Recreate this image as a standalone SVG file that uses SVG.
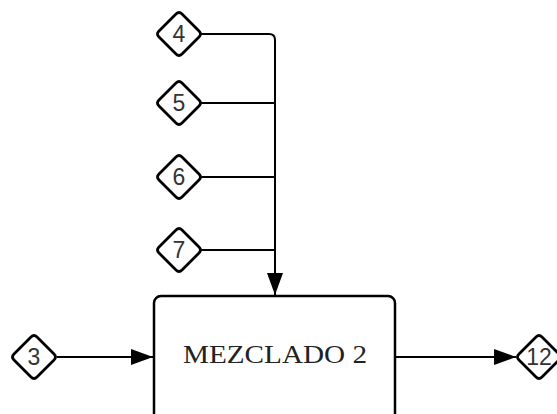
<svg xmlns="http://www.w3.org/2000/svg" width="557" height="414" viewBox="0 0 557 414">
<defs>
<marker id="ah2" viewBox="0 0 22 16" refX="22" refY="8" markerWidth="22" markerHeight="16" markerUnits="userSpaceOnUse" orient="auto">
<path d="M0,0 L22,8 L0,16 z" fill="#000"/>
</marker>
</defs>
<style>
.d{fill:#fff;stroke:#000;stroke-width:2.8;stroke-linejoin:round}
.t{font-family:"Liberation Sans",Arial,sans-serif;font-size:23px;fill:#333;text-anchor:middle}
.c{fill:none;stroke:#000;stroke-width:2}
.b{fill:#fff;stroke:#000;stroke-width:2.5}
.bt{font-family:"Liberation Serif","Times New Roman",serif;font-size:26px;fill:#222}
</style>
<rect width="557" height="414" fill="#fff"/>
<g id="connectors">
<path class="c" d="M201,34 H269 Q275,34 275,40 V295" marker-end="url(#ah2)"/>
<path class="c" d="M201,103 H275"/>
<path class="c" d="M201,177 H275"/>
<path class="c" d="M201,250 H275"/>
<path class="c" d="M57,357 H153" marker-end="url(#ah2)"/>
<path class="c" d="M396,357 H516" marker-end="url(#ah2)"/>
</g>
<g id="box">
<rect class="b" x="154" y="296" width="241" height="130" rx="7"/>
<text class="bt" x="183" y="363" textLength="184" lengthAdjust="spacingAndGlyphs">MEZCLADO 2</text>
</g>
<g id="n4">
<path class="d" d="M176,14 Q179,11 182,14 L199,31 Q202,34 199,37 L182,54 Q179,57 176,54 L159,37 Q156,34 159,31 Z"/>
<text class="t" x="179" y="42">4</text>
</g>
<g id="n5">
<path class="d" d="M176,83 Q179,80 182,83 L199,100 Q202,103 199,106 L182,123 Q179,126 176,123 L159,106 Q156,103 159,100 Z"/>
<text class="t" x="179" y="111">5</text>
</g>
<g id="n6">
<path class="d" d="M176,157 Q179,154 182,157 L199,174 Q202,177 199,180 L182,197 Q179,200 176,197 L159,180 Q156,177 159,174 Z"/>
<text class="t" x="179" y="185">6</text>
</g>
<g id="n7">
<path class="d" d="M176,230 Q179,227 182,230 L199,247 Q202,250 199,253 L182,270 Q179,273 176,270 L159,253 Q156,250 159,247 Z"/>
<text class="t" x="179" y="258">7</text>
</g>
<g id="n3">
<path class="d" d="M31,337 Q34,334 37,337 L54,354 Q57,357 54,360 L37,377 Q34,380 31,377 L14,360 Q11,357 14,354 Z"/>
<text class="t" x="34" y="365">3</text>
</g>
<g id="n12">
<path class="d" d="M536,337 Q539,334 542,337 L559,354 Q562,357 559,360 L542,377 Q539,380 536,377 L519,360 Q516,357 519,354 Z"/>
<text class="t" x="539" y="365">12</text>
</g>
</svg>
